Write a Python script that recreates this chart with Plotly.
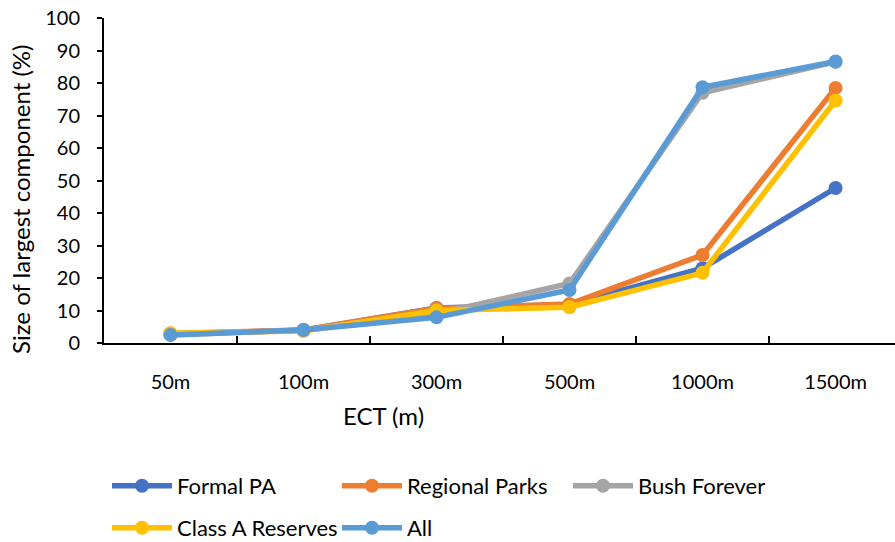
import plotly.graph_objects as go

# ECT distance classes
ect = ["50m", "100m", "300m", "500m", "1000m", "1500m"]

# Size of largest component (%) per reserve group
formal_pa = [2.8, 3.9, 10.8, 11.8, 23.0, 47.7]
regional_parks = [2.9, 4.0, 10.7, 12.0, 27.1, 78.5]
bush_forever = [2.5, 4.0, 9.0, 18.3, 77.0, 86.5]
class_a = [3.0, 3.7, 10.0, 11.0, 21.6, 74.6]
all_reserves = [2.5, 4.0, 7.9, 16.3, 78.7, 86.6]

y_ticks = [0, 10, 20, 30, 40, 50, 60, 70, 80, 90, 100]

# name, values, colour, legend slot (left px, centre-y px)
series = [
    ("Formal PA", formal_pa, "#4472C4", (107, 486)),
    ("Regional Parks", regional_parks, "#ED7D31", (337, 486)),
    ("Bush Forever", bush_forever, "#A5A5A5", (568, 486)),
    ("Class A Reserves", class_a, "#FFC000", (107, 528)),
    ("All", all_reserves, "#5B9BD5", (337, 528)),
]

FONT = "Lato"
W, H = 895, 542

fig = go.Figure()
legends = {}
for i, (name, vals, color, (lx, ly)) in enumerate(series):
    key = "legend" if i == 0 else f"legend{i + 1}"
    fig.add_trace(go.Scatter(
        x=ect, y=vals, name=name, mode="lines+markers",
        line=dict(color=color, width=5.5),
        marker=dict(color=color, size=14),
        legend=key,
    ))
    legends[key] = dict(
        orientation="h", xref="container", yref="container",
        x=lx / W, y=1 - ly / H, xanchor="left", yanchor="middle",
        itemwidth=60,
        font=dict(family=FONT, size=22, color="#000000"),
        bgcolor="rgba(0,0,0,0)",
    )

fig.update_layout(
    width=W, height=H,
    margin=dict(l=104, r=0, t=18, b=199),
    paper_bgcolor="white", plot_bgcolor="white",
    font=dict(family=FONT, color="#000000"),
    showlegend=True,
    **legends,
    xaxis=dict(
        type="category", range=[-0.5, 5.447],
        showline=True, linecolor="#000000", linewidth=2,
        ticks="inside", tickson="boundaries", ticklen=7,
        tickcolor="#000000", tickwidth=2,
        showgrid=False, zeroline=False,
        tickfont=dict(family=FONT, size=20),
        ticklabelstandoff=20,
    ),
    yaxis=dict(
        range=[0, 100], tickvals=y_ticks,
        showline=True, linecolor="#000000", linewidth=2,
        ticks="outside", ticklen=5, tickcolor="#000000", tickwidth=2,
        showgrid=False, zeroline=False,
        tickfont=dict(family=FONT, size=20),
        ticklabelstandoff=13,
    ),
    annotations=[
        # x axis title, positioned in pixel terms relative to the plot area
        dict(text="ECT (m)",
             x=(383 - 104) / 791, y=(343 - 415) / 325,
             xref="paper", yref="paper", xanchor="center", yanchor="middle",
             showarrow=False, font=dict(family=FONT, size=24)),
        dict(text="Size of largest component (%)", textangle=-90,
             x=-0.105, y=(343 - 199) / 325, xref="paper", yref="paper",
             showarrow=False, font=dict(family=FONT, size=24),
             xanchor="center", yanchor="middle"),
    ],
)

fig.write_html("out.html")
